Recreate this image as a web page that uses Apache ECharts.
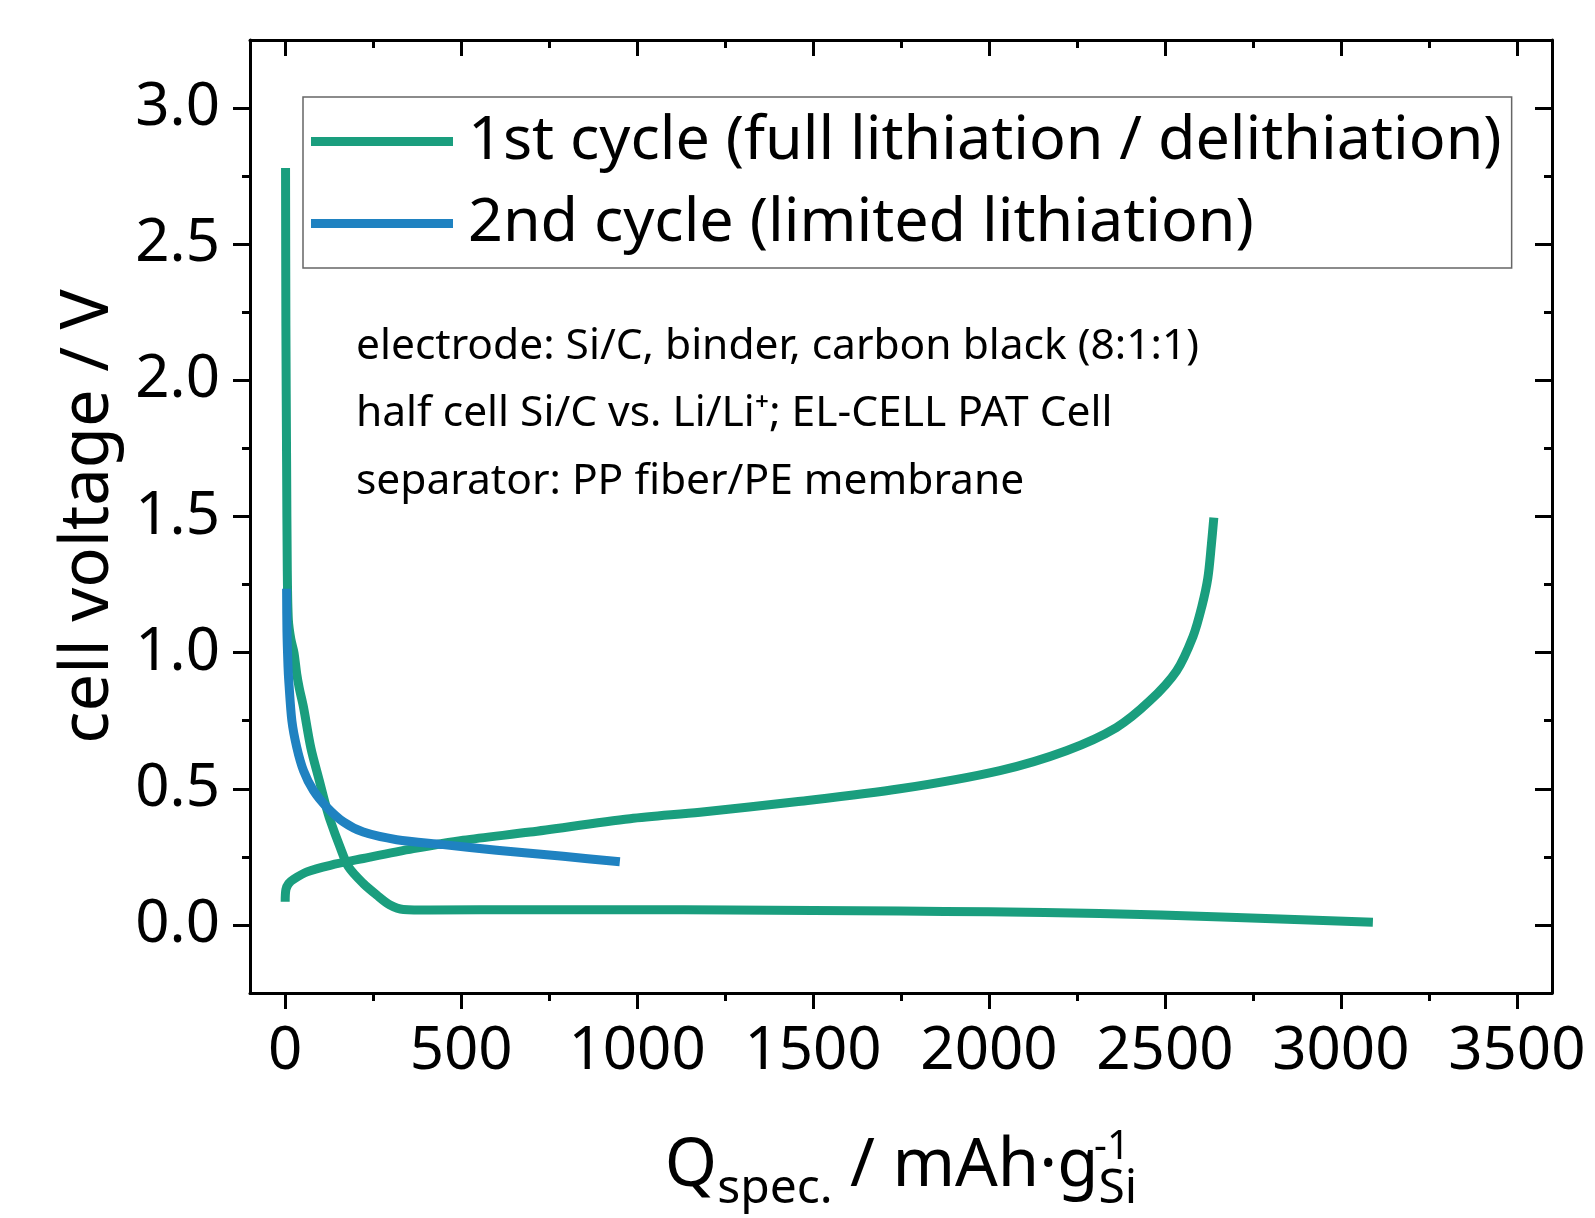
<!DOCTYPE html>
<html>
<head>
<meta charset="utf-8">
<script src="https://cdn.jsdelivr.net/npm/echarts@6.0.0/dist/echarts.min.js"></script>
<style>
  html, body { margin: 0; padding: 0; background: #fff; }
  #chart { width: 1595px; height: 1218px; }
</style>
</head>
<body>
<div id="chart"></div>
<script>
const FONT = '"Noto Sans", "Open Sans", sans-serif';
const GREEN = "#1a9e7e";
const BLUE = "#1f82c1";

// 1st cycle, lithiation (Q in mAh/g, V in volt)
const lithQ = [1, 2, 4, 6, 9, 16, 25, 33, 40, 52, 73, 97, 114, 128, 156, 180, 222, 260, 298, 336, 412, 700, 1000, 1264, 1500, 1747, 2000, 2315, 2662, 3091];
const lithV = [2.78, 2.2, 1.7, 1.3, 1.12, 1.05, 1.0, 0.92, 0.87, 0.8, 0.65, 0.53, 0.445, 0.384, 0.286, 0.213, 0.152, 0.11, 0.073, 0.057, 0.055, 0.056, 0.056, 0.055, 0.053, 0.051, 0.048, 0.042, 0.029, 0.0095];

// 1st cycle, delithiation
const delithQ = [0, 2, 10, 24, 62, 128, 222, 364, 506, 696, 980, 1179, 1458, 1747, 2031, 2220, 2362, 2457, 2533, 2580, 2605, 2622, 2632, 2639];
const delithV = [0.085, 0.13, 0.152, 0.168, 0.195, 0.219, 0.244, 0.28, 0.311, 0.341, 0.39, 0.414, 0.453, 0.5, 0.567, 0.64, 0.725, 0.823, 0.933, 1.06, 1.17, 1.274, 1.396, 1.496];

// 2nd cycle, limited lithiation
const cycle2Q = [4, 5, 8, 10, 19, 33, 52, 80, 118, 166, 222, 317, 449, 601, 790, 951];
const cycle2V = [1.235, 1.08, 0.95, 0.9, 0.75, 0.652, 0.567, 0.494, 0.433, 0.378, 0.341, 0.313, 0.295, 0.274, 0.252, 0.232];

const xMajorTicks = [0, 500, 1000, 1500, 2000, 2500, 3000, 3500];
const xMinorTicks = [250, 750, 1250, 1750, 2250, 2750, 3250];
const yMajorTicks = [0, 0.5, 1.0, 1.5, 2.0, 2.5, 3.0];
const yMinorTicks = [0.25, 0.75, 1.25, 1.75, 2.25, 2.75];

const seriesNames = ["1st cycle (full lithiation / delithiation)", "2nd cycle (limited lithiation)"];
const noteLines = [
  "electrode: Si/C, binder, carbon black (8:1:1)",
  "half cell Si/C vs. Li/Li\u207a; EL-CELL PAT Cell",
  "separator: PP fiber/PE membrane",
];

function toPairs(q, v) {
  return q.map((x, i) => [x, v[i]]);
}

const chart = echarts.init(document.getElementById("chart"));

const tickLine = { color: "#000", width: 3 };
const xBase = { type: "value", min: -100, max: 3600, splitLine: { show: false } };
const yBase = { type: "value", min: -0.25, max: 3.25, splitLine: { show: false } };

const lineSeries = (name, data, color) => ({
  name: name,
  type: "line",
  data: data,
  showSymbol: false,
  symbol: "none",
  smooth: 0.3,
  lineStyle: { color: color, width: 9, cap: "butt", join: "round" },
  itemStyle: { color: color },
  xAxisIndex: 0,
  yAxisIndex: 0,
  z: 3,
});

const option = {
  animation: false,
  backgroundColor: "#fff",
  grid: { left: 250, right: 43, top: 40, bottom: 222 },
  legend: {
    data: seriesNames,
    orient: "vertical",
    left: 303,
    top: 97,
    padding: [14, 10, 14, 8],
    itemGap: 21,
    itemWidth: 142,
    itemHeight: 9,
    icon: "rect",
    borderColor: "#666",
    borderWidth: 1.5,
    textStyle: { fontFamily: FONT, fontSize: 61, color: "#000", lineHeight: 58, padding: [0, 0, 0, 10] },
  },
  xAxis: [
    {
      ...xBase,
      position: "bottom",
      axisLine: { show: true, onZero: false, lineStyle: tickLine },
      axisTick: { show: true, customValues: xMajorTicks, length: 16, lineStyle: tickLine },
      axisLabel: {
        customValues: xMajorTicks,
        fontFamily: FONT,
        fontSize: 60,
        color: "#000",
        margin: 29,
        formatter: (v) => String(v),
      },
      name: "{m|Q}{s|spec.}{m| / mAh\u00b7g}{s|Si}",
      nameLocation: "middle",
      nameGap: 140,
      nameTextStyle: {
        fontFamily: FONT,
        fontSize: 67,
        color: "#000",
        rich: {
          m: { fontFamily: FONT, fontSize: 67, color: "#000", lineHeight: 70, verticalAlign: "top" },
          s: { fontFamily: FONT, fontSize: 48, color: "#000", lineHeight: 48, verticalAlign: "top", padding: [32, 0, 0, 0] },
        },
      },
    },
    {
      ...xBase,
      position: "bottom",
      axisLine: { show: false, onZero: false },
      axisTick: { show: true, customValues: xMinorTicks, length: 8, lineStyle: tickLine },
      axisLabel: { show: false },
    },
    {
      ...xBase,
      position: "top",
      axisLine: { show: true, onZero: false, lineStyle: tickLine },
      axisTick: { show: true, inside: true, customValues: xMajorTicks, length: 16, lineStyle: tickLine },
      axisLabel: { show: false },
    },
    {
      ...xBase,
      position: "top",
      axisLine: { show: false, onZero: false },
      axisTick: { show: true, inside: true, customValues: xMinorTicks, length: 8, lineStyle: tickLine },
      axisLabel: { show: false },
    },
  ],
  yAxis: [
    {
      ...yBase,
      position: "left",
      axisLine: { show: true, onZero: false, lineStyle: tickLine },
      axisTick: { show: true, customValues: yMajorTicks, length: 17, lineStyle: tickLine },
      axisLabel: {
        customValues: yMajorTicks,
        fontFamily: FONT,
        fontSize: 60,
        color: "#000",
        margin: 30,
        formatter: (v) => v.toFixed(1),
      },
      name: "cell voltage / V",
      nameLocation: "middle",
      nameGap: 128,
      nameTextStyle: { fontFamily: FONT, fontSize: 67, color: "#000" },
    },
    {
      ...yBase,
      position: "left",
      axisLine: { show: false, onZero: false },
      axisTick: { show: true, customValues: yMinorTicks, length: 8, lineStyle: tickLine },
      axisLabel: { show: false },
    },
    {
      ...yBase,
      position: "right",
      axisLine: { show: true, onZero: false, lineStyle: tickLine },
      axisTick: { show: true, inside: true, customValues: yMajorTicks, length: 17, lineStyle: tickLine },
      axisLabel: { show: false },
    },
    {
      ...yBase,
      position: "right",
      axisLine: { show: false, onZero: false },
      axisTick: { show: true, inside: true, customValues: yMinorTicks, length: 8, lineStyle: tickLine },
      axisLabel: { show: false },
    },
  ],
  graphic: [
    {
      type: "text",
      left: 356,
      top: 313,
      style: { text: noteLines.join("\n"), font: "42.5px " + FONT, fill: "#000", lineHeight: 67.5 },
    },
    {
      // superscript of the x axis unit, stacked above "Si"
      type: "text",
      left: 1094,
      top: 1128,
      style: { text: "-1", font: "40px " + FONT, fill: "#000" },
    },
  ],
  series: [
    lineSeries(seriesNames[0], toPairs(lithQ, lithV), GREEN),
    lineSeries(seriesNames[0], toPairs(delithQ, delithV), GREEN),
    lineSeries(seriesNames[1], toPairs(cycle2Q, cycle2V), BLUE),
  ],
};

chart.setOption(option);
</script>
</body>
</html>
